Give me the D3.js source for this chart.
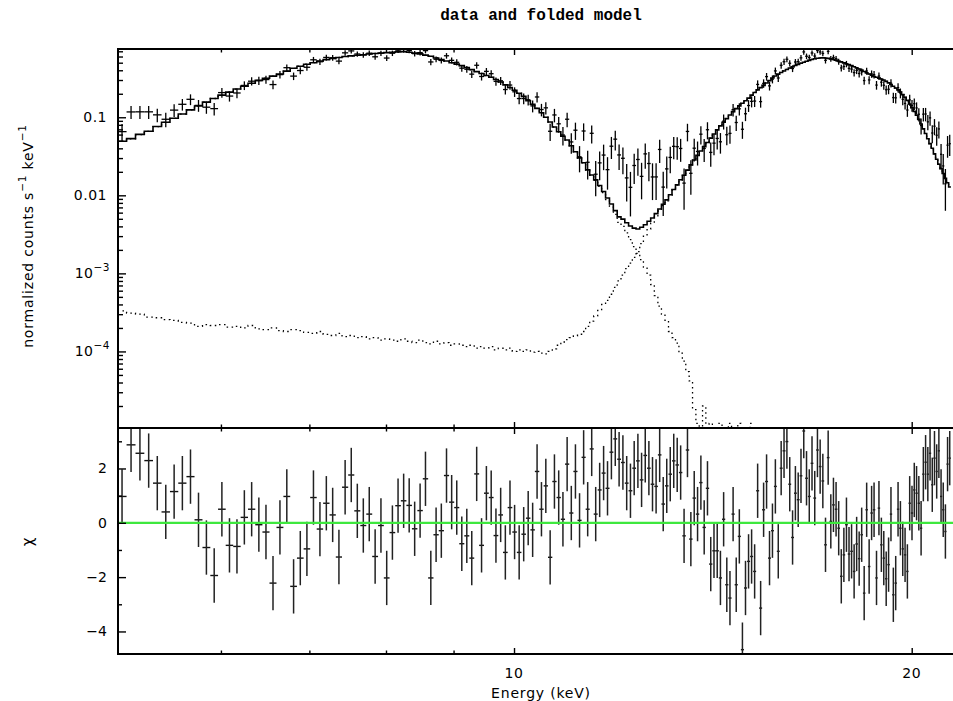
<!doctype html>
<html lang="en">
<head>
<meta charset="utf-8">
<style>
  body{margin:0;background:#fff;}
  svg text{font-family:"DejaVu Sans",sans-serif;fill:#000;}
</style>
</head>
<body>
<div id="grafico"></div>
<script src="https://cdn.jsdelivr.net/npm/d3@7"></script>
<script>

// bin centres in keV (every bin is 0.08 keV wide)
var energy = [
  5.05,5.13,5.21,5.29,5.37,5.45,5.53,5.61,5.69,5.77,
  5.85,5.93,6.01,6.09,6.17,6.25,6.33,6.41,6.49,6.57,
  6.65,6.73,6.81,6.89,6.97,7.05,7.13,7.21,7.29,7.37,
  7.45,7.53,7.61,7.69,7.77,7.85,7.93,8.01,8.09,8.17,
  8.25,8.33,8.41,8.49,8.57,8.65,8.73,8.81,8.89,8.97,
  9.05,9.13,9.21,9.29,9.37,9.45,9.53,9.61,9.69,9.77,
  9.85,9.93,10.01,10.09,10.17,10.25,10.33,10.41,10.49,10.57,
  10.65,10.73,10.81,10.89,10.97,11.05,11.13,11.21,11.29,11.37,
  11.45,11.53,11.61,11.69,11.77,11.85,11.93,12.01,12.09,12.17,
  12.25,12.33,12.41,12.49,12.57,12.65,12.73,12.81,12.89,12.97,
  13.05,13.13,13.21,13.29,13.37,13.45,13.53,13.61,13.69,13.77,
  13.85,13.93,14.01,14.09,14.17,14.25,14.33,14.41,14.49,14.57,
  14.65,14.73,14.81,14.89,14.97,15.05,15.13,15.21,15.29,15.37,
  15.45,15.53,15.61,15.69,15.77,15.85,15.93,16.01,16.09,16.17,
  16.25,16.33,16.41,16.49,16.57,16.65,16.73,16.81,16.89,16.97,
  17.05,17.13,17.21,17.29,17.37,17.45,17.53,17.61,17.69,17.77,
  17.85,17.93,18.01,18.09,18.17,18.25,18.33,18.41,18.49,18.57,
  18.65,18.73,18.81,18.89,18.97,19.05,19.13,19.21,19.29,19.37,
  19.45,19.53,19.61,19.69,19.77,19.85,19.93,20.01,20.09,20.17,
  20.25,20.33,20.41,20.49,20.57,20.65,20.73,20.81,20.89,20.97,
  21.05,21.13,21.21,21.29,21.37
];
var binHalf = 0.04;

// low energy hump of the model (only the first bins, after that it is under the floor)
var compSoft = [
  0.049,0.053,0.060,0.066,0.076,0.086,0.097,0.110,0.124,0.139,
  0.156,0.174,0.192,0.210,0.230,0.249,0.272,0.297,0.316,0.336,
  0.358,0.390,0.424,0.450,0.478,0.500,0.525,0.548,0.565,0.583,
  0.599,0.612,0.623,0.633,0.645,0.657,0.665,0.673,0.680,0.688,
  0.690,0.680,0.665,0.648,0.625,0.605,0.575,0.548,0.525,0.500,
  0.480,0.458,0.432,0.407,0.384,0.364,0.343,0.325,0.305,0.283,
  0.260,0.240,0.222,0.203,0.185,0.163,0.146,0.130,0.114,0.100,
  0.087,0.075,0.065,0.057,0.051,0.043,0.036,0.030,0.026,0.021,
  0.018,0.0155,0.0130,0.0108,0.0088,0.0072,0.0057,0.0045,0.0040,0.0033,
  0.0027,0.0022,0.0018,0.0015,0.0012,0.00095,0.00072,0.00052,0.00038,0.00030,
  0.00025,0.00018,0.000150,0.000128,0.000095,0.000075,0.000055,0.000042,0.000018,0.000012,
  0.000006,0.000020,0.000006,0.000012,0.000005,0.000005,0.000012,0.000005,0.000005,0.000012,
  0.000005,0.000005,0.000012,0.000005,0.000004,0.000004,0.000012
];

// high energy hump of the model
var compHard = [
  3.3e-4,3.1e-4,3.0e-4,2.75e-4,2.7e-4,2.55e-4,2.5e-4,2.35e-4,2.3e-4,2.1e-4,
  2.2e-4,2.15e-4,2.2e-4,2.05e-4,2.1e-4,2.0e-4,2.15e-4,1.95e-4,1.9e-4,2.0e-4,
  1.85e-4,1.8e-4,1.9e-4,1.85e-4,1.75e-4,1.7e-4,1.8e-4,1.65e-4,1.6e-4,1.7e-4,
  1.55e-4,1.6e-4,1.5e-4,1.55e-4,1.45e-4,1.5e-4,1.4e-4,1.45e-4,1.4e-4,1.35e-4,
  1.45e-4,1.35e-4,1.3e-4,1.4e-4,1.3e-4,1.25e-4,1.35e-4,1.25e-4,1.3e-4,1.2e-4,
  1.25e-4,1.2e-4,1.15e-4,1.2e-4,1.1e-4,1.15e-4,1.1e-4,1.15e-4,1.05e-4,1.1e-4,
  1.05e-4,1.1e-4,1.0e-4,1.05e-4,1.0e-4,1.05e-4,0.98e-4,1.0e-4,0.95e-4,0.93e-4,
  1.0e-4,1.08e-4,1.2e-4,1.32e-4,1.42e-4,1.5e-4,1.58e-4,1.66e-4,1.8e-4,2.1e-4,
  2.45e-4,2.85e-4,3.35e-4,4.0e-4,4.5e-4,5.4e-4,6.6e-4,8.0e-4,9.5e-4,1.15e-3,
  1.35e-3,1.6e-3,1.9e-3,2.4e-3,3.0e-3,3.7e-3,4.4e-3,5.3e-3,6.3e-3,7.4e-3,
  8.5e-3,0.0100,0.0117,0.0135,0.0157,0.0180,0.0210,0.0245,0.0283,0.0325,
  0.0370,0.0420,0.0475,0.0540,0.0610,0.0690,0.0775,0.0865,0.0960,0.107,
  0.118,0.129,0.140,0.151,0.163,0.176,0.192,0.208,0.224,0.240,
  0.256,0.275,0.295,0.318,0.338,0.357,0.375,0.392,0.410,0.427,
  0.444,0.460,0.476,0.492,0.507,0.522,0.536,0.550,0.562,0.570,
  0.575,0.576,0.574,0.568,0.560,0.550,0.538,0.525,0.512,0.498,
  0.485,0.472,0.458,0.444,0.430,0.415,0.400,0.386,0.372,0.358,
  0.345,0.333,0.325,0.317,0.309,0.300,0.288,0.276,0.263,0.250,
  0.237,0.224,0.210,0.195,0.180,0.164,0.148,0.133,0.119,0.106,
  0.094,0.082,0.071,0.062,0.053,0.046,0.040,0.034,0.029,0.025,
  0.022,0.019,0.0165,0.0145,0.0128
];

// residuals (data-model)/error
var chi = [
  0.97,2.87,2.56,2.29,1.46,0.40,1.15,1.46,1.70,0.11,
  -0.91,-1.94,0.50,-0.83,-0.87,0.20,0.50,-0.07,-0.34,-2.22,
  -0.17,0.97,-2.34,-1.30,-0.96,0.93,-0.23,0.72,0.29,-1.26,
  1.31,1.76,0.44,-0.10,0.32,-1.24,-0.10,-2.03,-0.36,0.63,
  0.81,0.64,-0.22,0.45,1.62,-2.03,-0.44,-0.29,1.74,0.76,
  0.56,-0.77,-0.48,-1.30,1.80,-0.83,1.09,0.93,-0.47,0.29,
  -1.09,0.56,-0.34,-1.09,-0.42,0.17,-0.26,1.89,0.50,1.36,
  -1.27,1.52,0.93,0.13,2.16,0.36,1.89,0.09,2.41,0.50,
  2.72,0.32,1.21,1.83,1.27,2.60,3.09,2.34,2.22,1.46,
  1.18,2.01,2.28,1.58,2.48,2.01,1.42,1.34,2.50,0.69,
  1.36,1.79,2.28,2.13,1.85,-0.48,2.68,-0.60,0.91,0.32,
  1.48,-0.17,1.27,-1.52,-1.03,-1.03,-2.03,0.13,-2.28,-2.77,
  0.32,-2.28,-0.50,-4.67,-2.40,-1.42,-1.24,-1.79,1.18,-3.14,
  0.48,1.52,-1.30,-0.29,1.34,-1.05,2.01,2.65,2.99,1.42,
  -0.54,1.09,0.85,1.73,3.38,1.64,0.97,2.19,0.91,2.68,
  2.07,1.54,-0.81,2.40,0.05,0.66,0.50,-0.20,-1.97,-1.18,
  -0.07,-1.15,-1.05,-1.79,-0.78,-1.32,-0.44,-2.59,0.48,-1.61,
  0.36,0.48,-2.03,0.54,-0.81,-1.30,-2.06,-1.54,0.32,-2.65,
  -2.22,0.50,-0.20,-0.96,-1.18,-1.79,0.72,0.36,1.21,1.09,
  0.72,-0.20,1.79,2.23,1.79,2.56,1.40,2.38,1.89,2.65,
  0.97,0.48,-0.32,2.16,2.38
];

// 1-sigma error of each data point, counts/s/keV
var sigma = [
  0.0166,0.0222,0.0223,0.0223,0.0213,0.0200,0.0228,0.0249,0.0268,0.0245,
  0.0238,0.0233,0.0296,0.0281,0.0294,0.0328,0.0350,0.0354,0.0358,0.0333,
  0.0385,0.0426,0.0374,0.0409,0.0429,0.0480,0.0466,0.0496,0.0495,0.0470,
  0.0531,0.0545,0.0522,0.0515,0.0529,0.0501,0.0528,0.0490,0.0528,0.0552,
  0.0557,0.0549,0.0525,0.0532,0.0548,0.0463,0.0484,0.0475,0.0508,0.0476,
  0.0462,0.0424,0.0417,0.0388,0.0441,0.0375,0.0404,0.0391,0.0349,0.0352,
  0.0308,0.0330,0.0299,0.0270,0.0271,0.0266,0.0243,0.0274,0.0229,0.0235,
  0.0165,0.0210,0.0186,0.0158,0.0200,0.0143,0.0170,0.0115,0.0168,0.0106,
  0.0162,0.0089,0.0105,0.0118,0.0095,0.0134,0.0149,0.0118,0.0112,0.0084,
  0.0073,0.0101,0.0110,0.0086,0.0120,0.0104,0.0085,0.0085,0.0128,0.0073,
  0.0096,0.0114,0.0134,0.0133,0.0130,0.0078,0.0167,0.0090,0.0130,0.0124,
  0.0160,0.0130,0.0171,0.0122,0.0140,0.0150,0.0143,0.0194,0.0159,0.0162,
  0.0230,0.0190,0.0233,0.0173,0.0217,0.0244,0.0260,0.0261,0.0334,0.0259,
  0.0339,0.0373,0.0326,0.0361,0.0406,0.0366,0.0440,0.0463,0.0479,0.0455,
  0.0422,0.0464,0.0466,0.0492,0.0534,0.0504,0.0496,0.0528,0.0506,0.0547,
  0.0536,0.0525,0.0475,0.0540,0.0487,0.0496,0.0487,0.0467,0.0424,0.0434,
  0.0452,0.0423,0.0418,0.0395,0.0410,0.0391,0.0402,0.0350,0.0406,0.0355,
  0.0390,0.0385,0.0328,0.0377,0.0344,0.0329,0.0306,0.0310,0.0340,0.0269,
  0.0269,0.0319,0.0294,0.0267,0.0251,0.0225,0.0265,0.0245,0.0249,0.0235,
  0.0214,0.0182,0.0215,0.0216,0.0192,0.0204,0.0163,0.0180,0.0158,0.0173,
  0.0119,0.0100,0.0077,0.0136,0.0139
];

var xTicksMajor = [10, 20];
var xTicksMinor = [6, 7, 8, 9];
var xTickLabels = ["10", "20"];
var yTicksMajor = [0.1, 0.01, 1e-3, 1e-4];
var yTickLabels = [["0.1", ""], ["0.01", ""], ["10", "\u22123"], ["10", "\u22124"]];
var chiTicksMajor = [2, 0, -2, -4];
var chiTicksMinor = [3, 1, -1, -3];
var chiTickLabels = ["2", "0", "\u22122", "\u22124"];

// frame
var L = 118, R = 954, T = 49, M = 428, B = 654;

var svg = d3.select("#grafico").append("svg").attr("width", 953).attr("height", 701);

var x = d3.scaleLog().domain([5.0146, 21.53]).range([L, R]);
var yUp = d3.scaleLog().domain([1.045e-5, 0.749]).range([M, T]);
var yLow = d3.scaleLinear().domain([-4.83, 3.49]).range([B, M]);

var defs = svg.append("defs");
defs.append("clipPath").attr("id", "clipTop").append("rect").attr("x", L).attr("y", T).attr("width", R - L).attr("height", M - T);
defs.append("clipPath").attr("id", "clipBot").append("rect").attr("x", L).attr("y", M).attr("width", R - L).attr("height", B - M);

var total = energy.map(function(e, i) { return (compSoft[i] || 0) + compHard[i]; });
var rate = energy.map(function(e, i) { return total[i] + chi[i] * sigma[i]; });

function steps(vals) {
  var pts = [];
  for (var i = 0; i < vals.length; i++) {
    pts.push([energy[i] - binHalf, vals[i]]);
    pts.push([energy[i] + binHalf, vals[i]]);
  }
  return pts;
}
var stepLine = d3.line().x(function(d) { return x(d[0]); }).y(function(d) { return yUp(Math.max(d[1], 3e-6)); });

var gTop = svg.append("g").attr("clip-path", "url(#clipTop)");

gTop.append("path").attr("d", stepLine(steps(compSoft))).attr("fill", "none").attr("stroke", "#000").attr("stroke-width", 1.3).attr("stroke-dasharray", "1.5,3.5");
gTop.append("path").attr("d", stepLine(steps(compHard))).attr("fill", "none").attr("stroke", "#000").attr("stroke-width", 1.3).attr("stroke-dasharray", "1.5,3.5");
gTop.append("path").attr("d", stepLine(steps(total))).attr("fill", "none").attr("stroke", "#000").attr("stroke-width", 1.6);

var pts = gTop.selectAll("g.pt").data(energy).enter().append("g").attr("class", "pt");
pts.append("line")
  .attr("x1", function(d) { return x(d - binHalf); }).attr("x2", function(d) { return x(d + binHalf); })
  .attr("y1", function(d, i) { return yUp(rate[i]); }).attr("y2", function(d, i) { return yUp(rate[i]); })
  .attr("stroke", "#000").attr("stroke-width", 1.3);
pts.append("line")
  .attr("x1", function(d) { return x(d); }).attr("x2", function(d) { return x(d); })
  .attr("y1", function(d, i) { return yUp(Math.max(rate[i] - sigma[i], 3e-6)); })
  .attr("y2", function(d, i) { return yUp(rate[i] + sigma[i]); })
  .attr("stroke", "#000").attr("stroke-width", 1.3);

var gBot = svg.append("g").attr("clip-path", "url(#clipBot)");
var res = gBot.selectAll("g.res").data(energy).enter().append("g").attr("class", "res");
res.append("line")
  .attr("x1", function(d) { return x(d - binHalf); }).attr("x2", function(d) { return x(d + binHalf); })
  .attr("y1", function(d, i) { return yLow(chi[i]); }).attr("y2", function(d, i) { return yLow(chi[i]); })
  .attr("stroke", "#111").attr("stroke-width", 1.4);
res.append("line")
  .attr("x1", function(d) { return x(d); }).attr("x2", function(d) { return x(d); })
  .attr("y1", function(d, i) { return yLow(chi[i] - 1); }).attr("y2", function(d, i) { return yLow(chi[i] + 1); })
  .attr("stroke", "#222").attr("stroke-width", 1.5);
gBot.append("line").attr("x1", L).attr("x2", R).attr("y1", yLow(0)).attr("y2", yLow(0)).attr("stroke", "#3ee83e").attr("stroke-width", 2.2);

// ticks, all pointing inwards
function ticks(axis, tx, ty) {
  svg.append("g").attr("transform", "translate(" + tx + "," + ty + ")").call(axis)
    .call(function(g) { g.select(".domain").remove(); })
    .selectAll("line").attr("stroke", "#000").attr("stroke-width", 1.4);
}
[[T, d3.axisBottom], [M, d3.axisTop], [M, d3.axisBottom], [B, d3.axisTop]].forEach(function(p) {
  ticks(p[1](x).tickValues(xTicksMajor).tickSize(6).tickFormat(""), 0, p[0]);
  ticks(p[1](x).tickValues(xTicksMinor).tickSize(3.5).tickFormat(""), 0, p[0]);
});
var yMinor = yUp.ticks().filter(function(v) { return yTicksMajor.indexOf(v) < 0; });
ticks(d3.axisRight(yUp).tickValues(yTicksMajor).tickSize(8).tickFormat(""), L, 0);
ticks(d3.axisRight(yUp).tickValues(yMinor).tickSize(5).tickFormat(""), L, 0);
ticks(d3.axisRight(yLow).tickValues(chiTicksMajor).tickSize(8).tickFormat(""), L, 0);
ticks(d3.axisRight(yLow).tickValues(chiTicksMinor).tickSize(4).tickFormat(""), L, 0);

// frames
svg.append("rect").attr("x", L).attr("y", T).attr("width", R - L).attr("height", M - T).attr("fill", "none").attr("stroke", "#000").attr("stroke-width", 2);
svg.append("rect").attr("x", L).attr("y", M).attr("width", R - L).attr("height", B - M).attr("fill", "none").attr("stroke", "#000").attr("stroke-width", 2);

// tick labels
yTicksMajor.forEach(function(v, i) {
  var t = svg.append("text").attr("x", yTickLabels[i][1] ? 110 : 107).attr("y", yUp(v) + 5)
    .attr("text-anchor", "end").style("font-size", "14px").style("letter-spacing", "0.5px");
  t.append("tspan").text(yTickLabels[i][0]);
  if (yTickLabels[i][1]) t.append("tspan").attr("dy", -7).style("font-size", "10.5px").text(yTickLabels[i][1]);
});
chiTicksMajor.forEach(function(v, i) {
  svg.append("text").attr("x", 107).attr("y", yLow(v) + 5).attr("text-anchor", "end").style("font-size", "14px").text(chiTickLabels[i]);
});
xTicksMajor.forEach(function(v, i) {
  svg.append("text").attr("x", x(v)).attr("y", 678).attr("text-anchor", "middle").style("font-size", "14px").style("letter-spacing", "0.5px").text(xTickLabels[i]);
});

// axis titles
svg.append("text").attr("x", 541).attr("y", 698).attr("text-anchor", "middle").style("font-size", "14px").style("letter-spacing", "0.8px").text("Energy (keV)");

var yt = svg.append("text").attr("transform", "translate(33,236) rotate(-90)").attr("text-anchor", "middle")
  .style("font-size", "14px").style("letter-spacing", "0.8px");
yt.append("tspan").text("normalized counts s");
yt.append("tspan").attr("dy", -7).style("font-size", "10.5px").text("\u22121");
yt.append("tspan").attr("dy", 7).text("  keV");
yt.append("tspan").attr("dy", -7).style("font-size", "10.5px").text("\u22121");

svg.append("text").attr("transform", "translate(33,542) rotate(-90)").attr("text-anchor", "middle").style("font-size", "15px").text("\u03c7");

svg.append("text").attr("x", 541).attr("y", 20).attr("text-anchor", "middle")
  .style("font-family", "'Liberation Mono', monospace").style("font-weight", "bold").style("font-size", "16px")
  .text("data and folded model");

</script>
</body>
</html>
